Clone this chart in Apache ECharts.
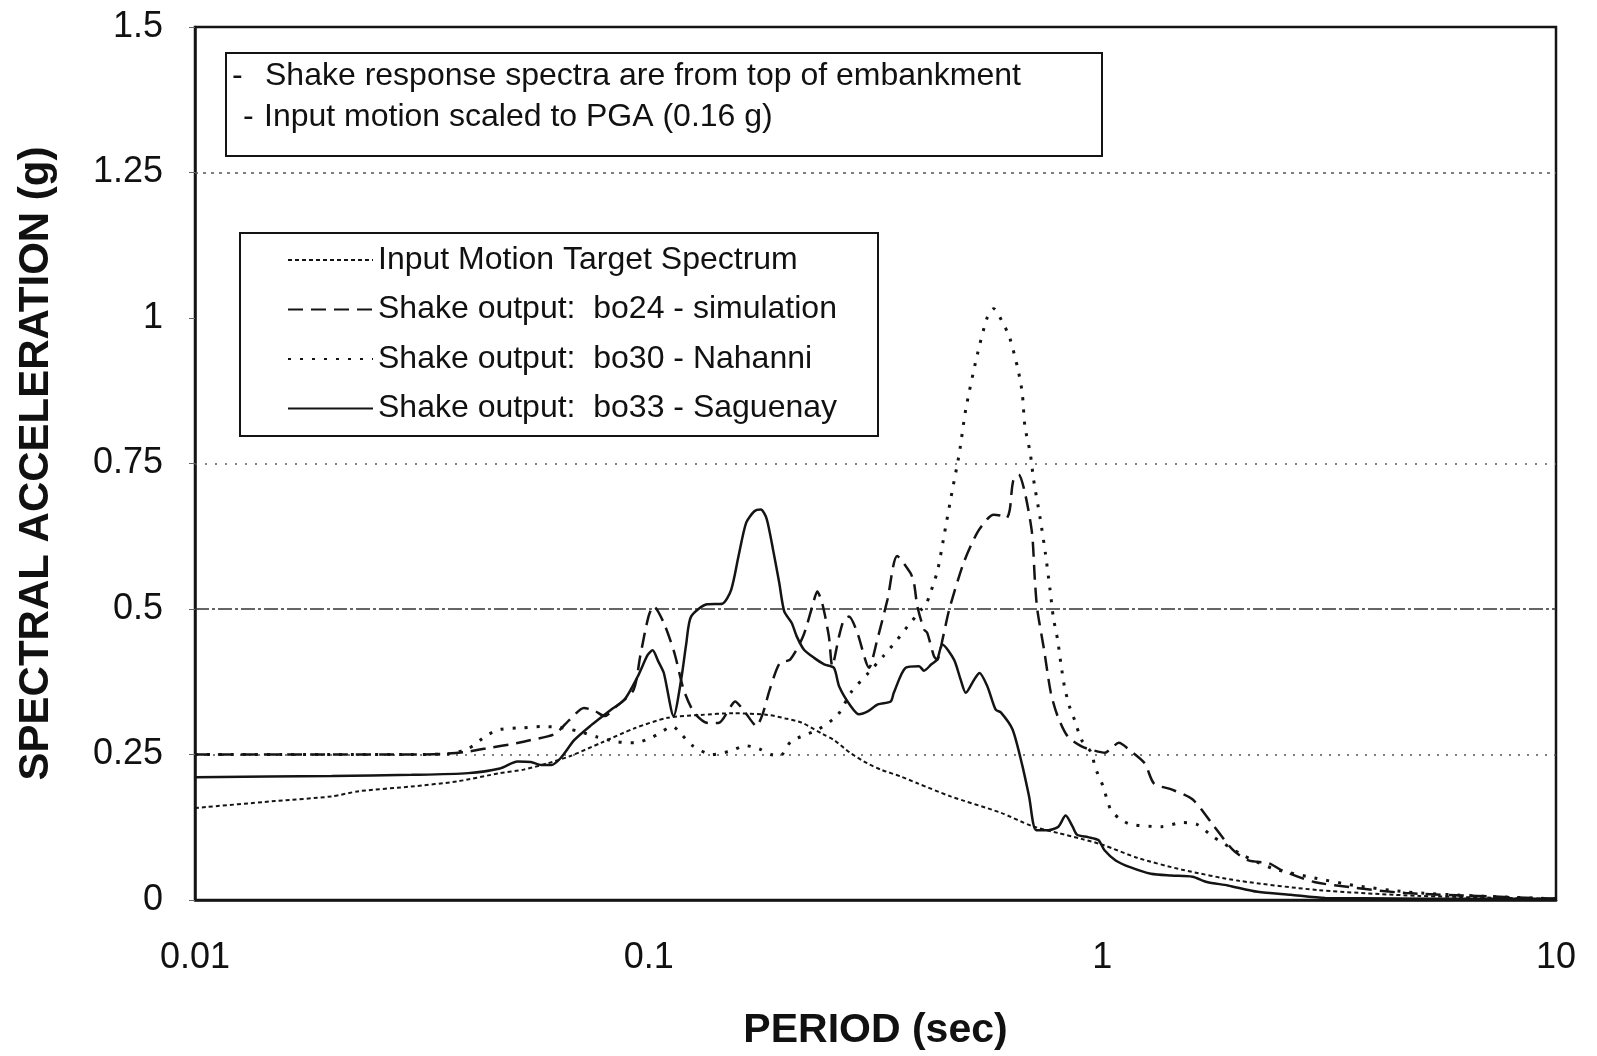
<!DOCTYPE html>
<html>
<head>
<meta charset="utf-8">
<script src="https://cdn.jsdelivr.net/npm/echarts@6/dist/echarts.min.js"></script>
<style>
html,body{margin:0;padding:0;background:#fff;}
#chart{width:1597px;height:1056px;}
</style>
</head>
<body>
<div id="chart"></div>
<script>
// ---- data (period in sec, spectral acceleration in g) ----
var seriesNames = [
  "Input Motion Target Spectrum",
  "Shake output:  bo24 - simulation",
  "Shake output:  bo30 - Nahanni",
  "Shake output:  bo33 - Saguenay"
];
var target = [[0.01,0.158],[0.015,0.17],[0.02,0.178],[0.023,0.187],[0.03,0.195],[0.038,0.204],[0.047,0.218],[0.053,0.224],[0.06,0.235],[0.067,0.247],[0.0785,0.27],[0.093,0.295],[0.11,0.313],[0.13,0.318],[0.154,0.321],[0.183,0.318],[0.2,0.312],[0.217,0.305],[0.242,0.285],[0.256,0.275],[0.278,0.253],[0.303,0.235],[0.325,0.224],[0.36,0.212],[0.39,0.201],[0.463,0.178],[0.597,0.15],[0.7,0.127],[0.8,0.115],[0.9,0.105],[1.0,0.095],[1.2,0.072],[1.5,0.052],[2,0.033],[3,0.017],[5,0.007],[10,0.002]];
var bo24 = [[0.01,0.25],[0.02,0.25],[0.03,0.25],[0.035,0.251],[0.04,0.255],[0.045,0.262],[0.05,0.268],[0.055,0.275],[0.062,0.285],[0.067,0.31],[0.072,0.33],[0.076,0.325],[0.08,0.316],[0.085,0.333],[0.0926,0.361],[0.0958,0.419],[0.0999,0.487],[0.1025,0.505],[0.108,0.476],[0.114,0.424],[0.1195,0.361],[0.1262,0.321],[0.1352,0.304],[0.1424,0.304],[0.1518,0.333],[0.155,0.341],[0.1615,0.327],[0.1698,0.304],[0.1727,0.298],[0.1786,0.321],[0.1848,0.361],[0.1945,0.407],[0.205,0.413],[0.219,0.453],[0.2296,0.505],[0.2353,0.53],[0.2413,0.51],[0.2496,0.453],[0.2539,0.402],[0.2628,0.453],[0.2695,0.482],[0.2764,0.487],[0.2884,0.459],[0.306,0.399],[0.319,0.447],[0.336,0.516],[0.353,0.591],[0.3775,0.562],[0.3844,0.545],[0.391,0.505],[0.4044,0.465],[0.4112,0.459],[0.4254,0.419],[0.4325,0.413],[0.445,0.45],[0.46,0.5],[0.495,0.58],[0.529,0.63],[0.557,0.654],[0.576,0.662],[0.6,0.66],[0.615,0.656],[0.625,0.67],[0.636,0.72],[0.654,0.731],[0.675,0.7],[0.7,0.63],[0.71,0.55],[0.7186,0.5],[0.744,0.43],[0.77,0.356],[0.797,0.316],[0.839,0.281],[0.9,0.264],[0.947,0.258],[1.013,0.253],[1.048,0.261],[1.087,0.27],[1.155,0.256],[1.24,0.235],[1.3,0.2],[1.42,0.19],[1.58,0.173],[1.75,0.13],[1.94,0.086],[2.1,0.068],[2.33,0.063],[2.5,0.05],[2.93,0.031],[3.6,0.021],[4.66,0.012],[6.7,0.007],[10,0.002]];
var bo30 = [[0.01,0.25],[0.02,0.25],[0.03,0.25],[0.036,0.251],[0.04,0.26],[0.044,0.283],[0.047,0.293],[0.053,0.296],[0.058,0.298],[0.063,0.297],[0.07,0.29],[0.077,0.28],[0.085,0.272],[0.093,0.27],[0.102,0.28],[0.11,0.295],[0.113,0.298],[0.118,0.285],[0.125,0.265],[0.138,0.25],[0.15,0.255],[0.164,0.265],[0.175,0.26],[0.186,0.25],[0.195,0.248],[0.2056,0.272],[0.22,0.283],[0.2365,0.293],[0.261,0.318],[0.28,0.358],[0.305,0.39],[0.329,0.419],[0.353,0.447],[0.372,0.47],[0.4,0.5],[0.41,0.51],[0.425,0.545],[0.434,0.568],[0.449,0.631],[0.466,0.7],[0.484,0.768],[0.5,0.843],[0.528,0.931],[0.557,1.0],[0.576,1.016],[0.605,0.99],[0.625,0.966],[0.652,0.911],[0.666,0.871],[0.675,0.814],[0.6935,0.768],[0.7056,0.722],[0.73,0.654],[0.749,0.596],[0.767,0.533],[0.78,0.485],[0.797,0.447],[0.81,0.407],[0.825,0.367],[0.846,0.333],[0.868,0.31],[0.9,0.275],[0.947,0.2525],[0.963,0.229],[1.004,0.195],[1.042,0.156],[1.09,0.14],[1.155,0.13],[1.35,0.126],[1.5,0.133],[1.616,0.13],[1.746,0.11],[2.04,0.077],[2.38,0.054],[2.93,0.038],[3.6,0.025],[4.66,0.014],[6.68,0.007],[10,0.002]];
var bo33 = [[0.01,0.211],[0.02,0.213],[0.03,0.215],[0.04,0.218],[0.047,0.226],[0.0514,0.238],[0.055,0.237],[0.058,0.232],[0.061,0.232],[0.064,0.244],[0.0686,0.275],[0.0746,0.3],[0.0826,0.327],[0.0884,0.344],[0.0946,0.384],[0.0995,0.421],[0.102,0.429],[0.105,0.41],[0.108,0.39],[0.1135,0.316],[0.118,0.38],[0.121,0.44],[0.124,0.487],[0.1345,0.508],[0.1453,0.509],[0.152,0.533],[0.1578,0.591],[0.164,0.648],[0.171,0.668],[0.1767,0.671],[0.182,0.655],[0.188,0.602],[0.194,0.545],[0.199,0.496],[0.2067,0.476],[0.212,0.453],[0.22,0.43],[0.2316,0.416],[0.2437,0.405],[0.256,0.399],[0.263,0.367],[0.279,0.333],[0.291,0.319],[0.304,0.324],[0.32,0.336],[0.3415,0.341],[0.347,0.356],[0.3685,0.399],[0.3945,0.4016],[0.4044,0.394],[0.42,0.405],[0.4325,0.413],[0.444,0.439],[0.471,0.413],[0.487,0.379],[0.5,0.356],[0.522,0.379],[0.536,0.39],[0.558,0.367],[0.582,0.327],[0.598,0.322],[0.634,0.293],[0.6667,0.23],[0.6895,0.178],[0.715,0.12],[0.76,0.12],[0.8,0.126],[0.83,0.145],[0.86,0.126],[0.88,0.112],[0.93,0.108],[0.98,0.103],[1.01,0.086],[1.07,0.068],[1.155,0.056],[1.28,0.045],[1.42,0.042],[1.58,0.04],[1.7,0.031],[1.89,0.025],[2.2,0.014],[2.6,0.009],[3.1,0.0035],[10,0.002]];
var gridValues = [0.25, 0.5, 0.75, 1.25];
var noteLines = ["Shake response spectra are from top of embankment", "Input motion scaled to PGA (0.16 g)"];
var xTitle = "PERIOD (sec)";
var yTitle = "SPECTRAL ACCELERATION (g)";

// ---- styling ----
var FONT = '"Liberation Sans", Arial, Helvetica, sans-serif';
var INK = '#141414';
var gridStyles = [
  {type:[2,7], width:1.5, color:'#555'},
  {type:[14,3,3,3], width:1.5, color:'#333'},
  {type:[2,8], width:1.5, color:'#555'},
  {type:[3,5], width:1.5, color:'#555'}
];
var lineStyles = [
  {type:[4,3], width:2, color:INK},
  {type:[15,8], width:2.5, color:INK},
  {type:[3,9], width:3, color:INK},
  {type:'solid', width:2.5, color:INK}
];
var dataSets = [target, bo24, bo30, bo33];

var series = dataSets.map(function(d, i){
  var s = {
    name: seriesNames[i],
    type: 'line',
    data: d,
    symbol: 'none',
    showSymbol: false,
    smooth: 0.25,
    lineStyle: lineStyles[i],
    itemStyle: {color: INK},
    z: 3
  };
  if (i === 0) {
    s.markLine = {
      silent: true,
      symbol: ['none','none'],
      label: {show:false},
      z: 1,
      data: gridValues.map(function(v, k){ return {yAxis: v, lineStyle: gridStyles[k]}; })
    };
  }
  return s;
});

var chart = echarts.init(document.getElementById('chart'), null, {renderer:'canvas'});
chart.setOption({
  backgroundColor: '#fff',
  animation: false,
  grid: {left:195, right:41, top:27, bottom:156, show:true, borderColor:INK, borderWidth:2.5, backgroundColor:'transparent'},
  xAxis: {
    type: 'log', logBase: 10, min: 0.01, max: 10,
    axisLine: {show:true, lineStyle:{color:INK, width:2.5}},
    axisTick: {show:false},
    minorTick: {show:false},
    splitLine: {show:false},
    axisLabel: {fontSize:36, color:'#111', fontFamily:FONT, margin:40},
    name: xTitle, nameLocation:'middle', nameGap:110,
    nameTextStyle: {fontSize:41, fontWeight:'bold', color:'#111', fontFamily:FONT}
  },
  yAxis: {
    type: 'value', min: 0, max: 1.5, interval: 0.25,
    axisLine: {show:true, lineStyle:{color:INK, width:2.5}},
    axisTick: {show:true, length:6, lineStyle:{color:'#666', width:1}},
    splitLine: {show:false},
    axisLabel: {fontSize:36, color:'#111', fontFamily:FONT, margin:32},
    name: yTitle, nameLocation:'middle', nameGap:138,
    nameTextStyle: {fontSize:42, fontWeight:'bold', color:'#111', fontFamily:FONT}
  },
  legend: {
    show: true, orient:'vertical', left:287, top:242, padding:0,
    itemWidth:85, itemHeight:14, itemGap:13.5,
    itemStyle: {color:'rgba(0,0,0,0)', borderColor:'rgba(0,0,0,0)', borderWidth:0, opacity:0},
    textStyle: {fontSize:32, lineHeight:36, color:'#111', fontFamily:FONT},
    data: seriesNames, selectedMode:false
  },
  graphic: [
    {type:'rect', z:0, shape:{x:226, y:53, width:876, height:103}, style:{fill:'#fff', stroke:INK, lineWidth:2}},
    {type:'text', z:5, left:232, top:60, style:{text:'-', font:'32px '+FONT, fill:'#111'}},
    {type:'text', z:5, left:265, top:60, style:{text:noteLines[0], font:'32px '+FONT, fill:'#111'}},
    {type:'text', z:5, left:243, top:101, style:{text:'-', font:'32px '+FONT, fill:'#111'}},
    {type:'text', z:5, left:264, top:101, style:{text:noteLines[1], font:'32px '+FONT, fill:'#111'}},
    {type:'rect', z:0, shape:{x:240, y:233, width:638, height:203}, style:{fill:'#fff', stroke:INK, lineWidth:2}}
  ],
  series: series
});
</script>
</body>
</html>
